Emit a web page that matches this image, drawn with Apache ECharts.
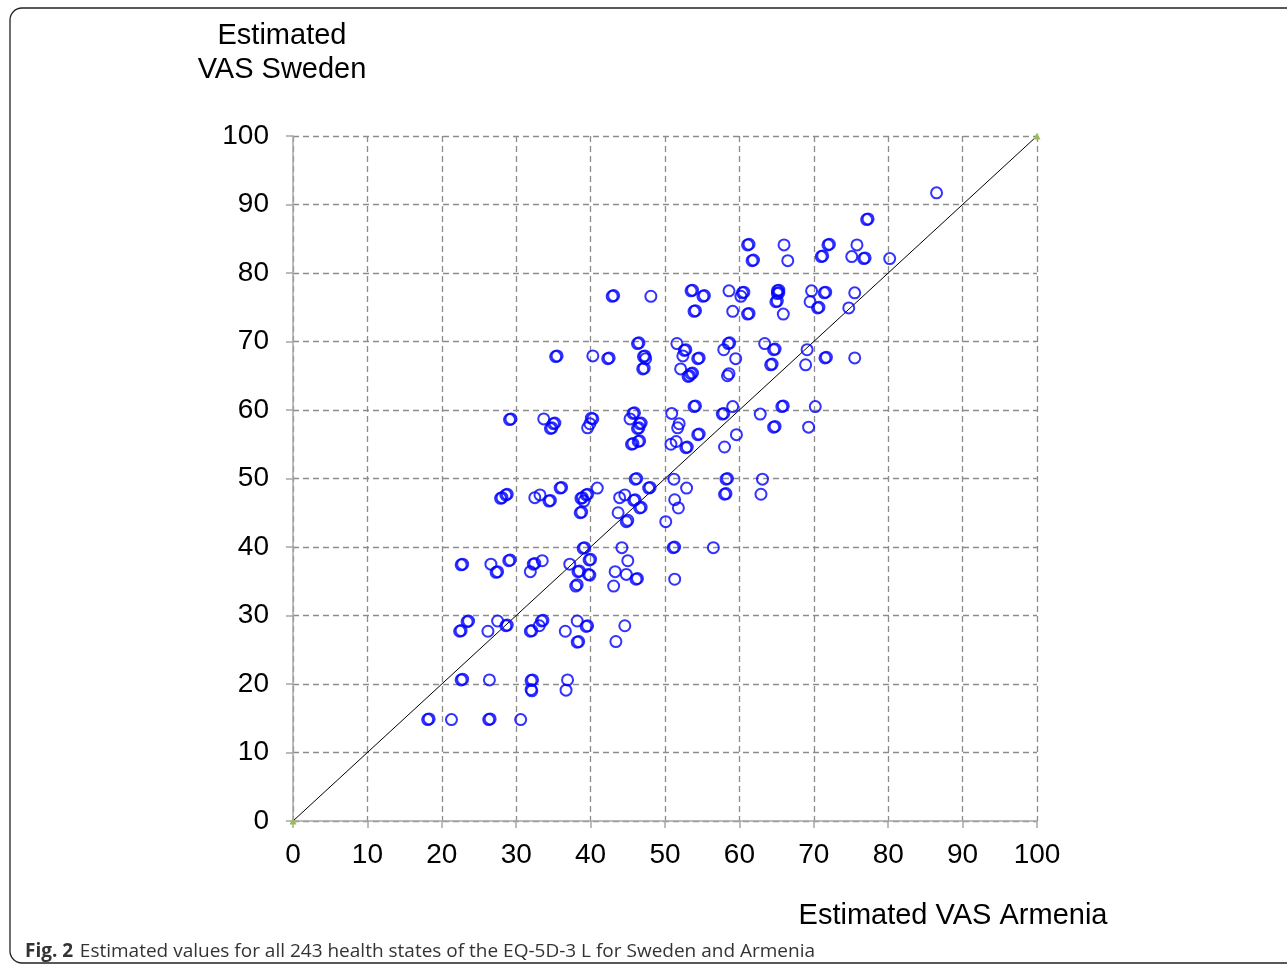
<!DOCTYPE html>
<html>
<head>
<meta charset="utf-8">
<title>Estimated VAS Sweden vs Armenia</title>
<script src="https://cdn.jsdelivr.net/npm/echarts@6/dist/echarts.min.js"></script>
<style>
  html, body { margin: 0; padding: 0; background: #fff; }
  #chart { width: 1287px; height: 969px; }
</style>
</head>
<body>
<div id="chart"></div>
<script>
// estimated VAS values (x = Armenia, y = Sweden)
var armenia = [
  18.1, 18.3, 21.3, 26.3, 26.5, 30.6,
  22.6, 22.8, 26.4, 32.2, 32.0, 32.0, 32.1, 36.9, 36.7,
  23.6, 23.4, 22.4, 22.6, 26.2, 27.5, 28.6, 28.8, 31.9, 32.1, 33.1, 33.4, 33.6,
  36.6, 38.2, 39.6, 39.4, 38.4, 38.2, 43.4, 44.6,
  22.8, 22.6, 26.6, 27.5, 27.3, 29.0, 29.2, 32.3, 32.5, 31.9, 33.5, 37.2,
  39.2, 39.0, 39.8, 40.0, 38.3, 38.5, 39.7, 39.9, 38.0, 38.2,
  44.2, 45.0, 43.3, 44.8, 46.1, 46.3, 43.1, 51.1, 51.3, 51.3, 56.5,
  44.8, 45.0, 50.1, 28.6, 28.8, 28.1, 27.9, 32.5, 33.2, 34.4, 34.6, 35.9, 36.1,
  38.9, 38.7, 39.4, 39.6, 39.1, 40.9, 38.6, 38.8, 43.9, 44.6, 46.0, 46.2,
  47.8, 48.0, 46.0, 45.8, 46.6, 46.8, 43.7, 51.2, 52.9, 51.3, 51.8,
  58.2, 58.4, 58.0, 58.2, 63.1, 62.9,
  29.3, 29.1, 33.7, 35.0, 35.2, 34.8, 34.6, 40.3, 40.1, 39.9, 39.6,
  45.7, 45.9, 45.3, 46.6, 46.8, 46.5, 46.3, 50.9, 51.9, 51.7, 53.9, 54.1,
  54.4, 54.6, 46.4, 46.6, 45.5, 45.7, 50.8, 51.5, 52.8, 53.0,
  57.7, 57.9, 59.1, 62.8, 59.6, 65.7, 65.9, 64.6, 64.8, 69.3, 70.2, 58.0,
  35.5, 35.3, 40.3, 42.3, 42.5, 46.3, 46.5, 47.3, 47.1, 47.4, 47.0, 47.2,
  51.6, 52.8, 52.6, 52.4, 54.4, 54.6, 52.1, 53.5, 53.7, 53.3, 53.1,
  58.5, 58.7, 57.9, 59.5, 58.6, 58.4, 63.4, 64.6, 64.8, 64.2, 64.4,
  69.1, 68.9, 71.5, 71.7, 75.5,
  42.9, 43.1, 48.1, 53.5, 53.7, 55.1, 55.3, 53.9, 54.1, 58.6, 60.4, 60.6, 60.2,
  59.1, 61.1, 61.3, 65.1, 65.3, 65.3, 65.1, 64.9, 65.1, 65.9,
  69.7, 71.4, 71.6, 69.5, 70.5, 70.7, 75.5, 74.7,
  86.5, 77.1, 77.3, 61.1, 61.3, 66.0, 71.9, 72.1, 75.8, 61.7, 61.9, 66.5,
  71.0, 71.2, 75.1, 76.7, 76.9, 80.2
];
var sweden = [
  14.8, 14.9, 14.8, 14.8, 14.9, 14.8,
  20.6, 20.7, 20.6, 20.6, 20.5, 19.2, 19.0, 20.6, 19.1,
  29.2, 29.1, 27.7, 27.8, 27.7, 29.2, 28.5, 28.6, 27.7, 27.8, 28.5, 29.2, 29.3,
  27.7, 29.2, 28.5, 28.4, 26.2, 26.1, 26.2, 28.5,
  37.5, 37.4, 37.5, 36.4, 36.3, 38.0, 38.1, 37.5, 37.6, 36.4, 38.0, 37.5,
  39.9, 39.8, 38.1, 38.2, 36.4, 36.5, 36.0, 35.9, 34.3, 34.5,
  39.9, 38.0, 36.4, 36.0, 35.3, 35.4, 34.3, 39.9, 40.0, 35.3, 39.9,
  43.7, 43.9, 43.7, 47.6, 47.7, 47.2, 47.1, 47.2, 47.6, 46.7, 46.8, 48.6, 48.7,
  47.2, 47.1, 47.6, 47.7, 46.7, 48.6, 45.0, 45.1, 47.2, 47.6, 49.9, 50.0,
  48.6, 48.7, 46.9, 46.8, 45.7, 45.8, 45.0, 49.9, 48.6, 46.9, 45.7,
  49.9, 50.0, 47.7, 47.8, 49.9, 47.7,
  58.7, 58.6, 58.7, 58.0, 58.1, 57.4, 57.3, 58.7, 58.8, 58.0, 57.4,
  59.5, 59.6, 58.7, 58.0, 58.1, 57.4, 57.3, 59.5, 58.0, 57.4, 60.5, 60.6,
  56.4, 56.5, 55.4, 55.5, 55.0, 55.1, 55.0, 55.4, 54.5, 54.6,
  59.4, 59.5, 60.5, 59.4, 56.4, 60.5, 60.6, 57.5, 57.6, 57.5, 60.5, 54.6,
  67.9, 67.8, 67.9, 67.5, 67.6, 69.7, 69.8, 67.9, 67.8, 67.5, 66.0, 66.1,
  69.7, 68.8, 68.7, 67.9, 67.5, 67.6, 66.0, 65.3, 65.4, 65.0, 64.9,
  69.7, 69.8, 68.8, 67.5, 65.3, 65.0, 69.7, 68.8, 68.9, 66.6, 66.7,
  68.8, 66.6, 67.6, 67.7, 67.6,
  76.6, 76.7, 76.6, 77.4, 77.5, 76.6, 76.7, 74.4, 74.5, 77.4, 77.1, 77.2, 76.6,
  74.4, 74.0, 74.1, 77.4, 77.5, 77.1, 77.0, 75.8, 75.9, 74.0,
  77.4, 77.1, 77.2, 75.8, 74.9, 75.0, 77.1, 74.9,
  91.7, 87.8, 87.9, 84.1, 84.2, 84.1, 84.1, 84.2, 84.1, 81.8, 81.9, 81.8,
  82.4, 82.5, 82.4, 82.1, 82.2, 82.1
];
var identity = [[0, 0], [100, 100]];

var points = armenia.map(function (a, i) { return [a, sweden[i]]; });

var chartDom = document.getElementById('chart');
var myChart = echarts.init(chartDom);

var axisFont = { fontFamily: 'Liberation Sans', fontSize: 28, color: '#000' };

var option = {
  backgroundColor: '#fff',
  animation: false,
  grid: { left: 293, right: 250, top: 136, bottom: 148 },
  xAxis: {
    type: 'value', min: 0, max: 100, interval: 10,
    axisLine: { show: true, onZero: false, lineStyle: { color: '#a6a6a6', width: 1.5 } },
    axisTick: { show: true, length: 7, lineStyle: { color: '#a6a6a6', width: 1.5 } },
    axisLabel: Object.assign({ margin: 20 }, axisFont),
    splitLine: { show: true, lineStyle: { color: '#8c8c8c', type: [6, 4], width: 1.3 } }
  },
  yAxis: {
    type: 'value', min: 0, max: 100, interval: 10,
    axisLine: { show: true, onZero: false, lineStyle: { color: '#a6a6a6', width: 1.5 } },
    axisTick: { show: true, length: 7, lineStyle: { color: '#a6a6a6', width: 1.5 } },
    axisLabel: Object.assign({ margin: 24 }, axisFont),
    splitLine: { show: true, lineStyle: { color: '#8c8c8c', type: [6, 4], width: 1.3 } }
  },
  graphic: [
    { type: 'rect', shape: { x: 10, y: 8, width: 1300, height: 955, r: 12 },
      style: { fill: 'none', stroke: '#222', lineWidth: 1.3 }, silent: true, z: -1 },
    { type: 'text', x: 282, y: 21, style: { text: 'Estimated', font: '29px "Liberation Sans"', fill: '#000', textAlign: 'center' } },
    { type: 'text', x: 282, y: 55, style: { text: 'VAS Sweden', font: '29px "Liberation Sans"', fill: '#000', textAlign: 'center' } },
    { type: 'text', x: 953, y: 901, style: { text: 'Estimated VAS Armenia', font: '29px "Liberation Sans"', fill: '#000', textAlign: 'center' } },
    { type: 'text', x: 25, y: 942, style: {
        rich: {
          b: { font: 'bold 19px "Open Sans"', fill: '#333' },
          n: { font: '19px "Open Sans"', fill: '#333' }
        },
        text: '{b|Fig. 2}  {n|Estimated values for all 243 health states of the EQ-5D-3 L for Sweden and Armenia}'
      } }
  ],
  series: [
    {
      type: 'line',
      data: identity,
      symbol: 'triangle',
      symbolSize: 7,
      showSymbol: true,
      itemStyle: { color: '#9bbb59' },
      lineStyle: { color: '#000', width: 1 },
      z: 3,
      silent: true
    },
    {
      type: 'scatter',
      data: points,
      symbol: 'circle',
      symbolSize: 11,
      itemStyle: { color: 'rgba(0,0,0,0)', borderColor: '#0000ff', borderWidth: 2 },
      emphasis: { disabled: true },
      z: 4
    }
  ]
};
option && myChart.setOption(option);
</script>
</body>
</html>
